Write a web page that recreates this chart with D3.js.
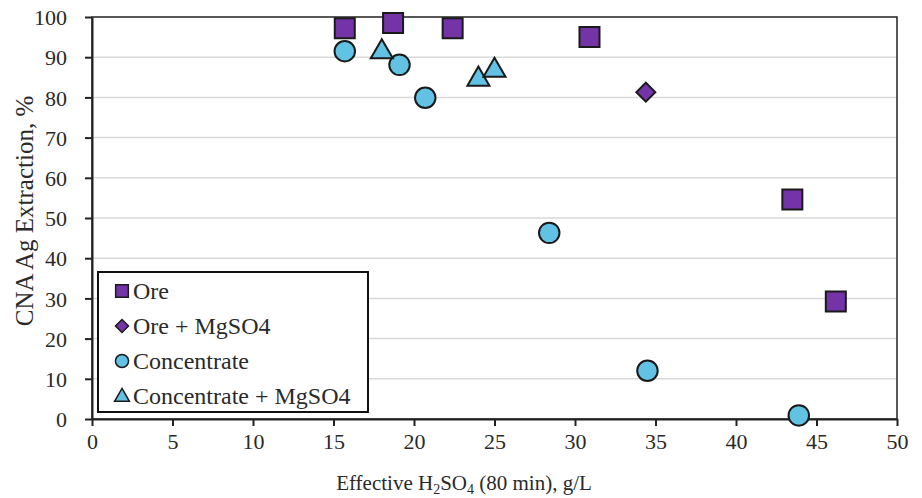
<!DOCTYPE html>
<html>
<head>
<meta charset="utf-8">
<script src="https://cdn.jsdelivr.net/npm/d3@7"></script>
<style>
  body { margin: 0; background: #fff; }
  svg text { font-family: "Liberation Serif", "Times New Roman", Times, serif; fill: #2a2a2a; }
</style>
</head>
<body>
<div id="chart"></div>
<script>
const oreX = [15.7, 18.7, 22.4, 30.9, 43.5, 46.2]
const oreY = [97.2, 98.5, 97.2, 95.0, 54.6, 29.2]
const oreMgX = [34.4]
const oreMgY = [81.3]
const concX = [15.7, 19.1, 20.7, 28.4, 34.5, 43.9]
const concY = [91.5, 88.1, 79.9, 46.3, 12.0, 0.9]
const concMgX = [18.0, 24.0, 25.0]
const concMgY = [91.8, 85.0, 87.2]
const xTicks = [0, 5, 10, 15, 20, 25, 30, 35, 40, 45, 50]
const yTicks = [0, 10, 20, 30, 40, 50, 60, 70, 80, 90, 100]

const purple = '#7433a6'
const blue = '#62c2e4'
const serif = '"Liberation Serif", "Times New Roman", Times, serif'

const margin = { top: 17, left: 92, right: 25, bottom: 79 }
const width = 922 - margin.left - margin.right
const height = 498 - margin.top - margin.bottom

const svg = d3
  .select('#chart')
  .append('svg')
  .attr('width', 922)
  .attr('height', 498)
  .append('g')
  .attr('transform', 'translate(' + margin.left + ',' + margin.top + ')')

const x = d3.scaleLinear().domain([0, 50]).range([0, width])
const y = d3.scaleLinear().domain([0, 100]).range([height, 0])

// gridlines
svg
  .selectAll('.grid')
  .data(yTicks.filter(d => d > 0 && d < 100))
  .enter()
  .append('line')
  .attr('x1', 0)
  .attr('x2', width)
  .attr('y1', d => y(d))
  .attr('y2', d => y(d))
  .attr('stroke', '#d9d9d9')
  .attr('stroke-width', 1.5)

// frame
svg
  .append('rect')
  .attr('width', width)
  .attr('height', height)
  .attr('fill', 'none')
  .attr('stroke', '#222')
  .attr('stroke-width', 1.5)

const xAxis = d3.axisBottom(x).tickValues(xTicks).tickSize(7).tickSizeOuter(0)
const yAxis = d3.axisLeft(y).tickValues(yTicks).tickSize(7).tickSizeOuter(0)

const gx = svg
  .append('g')
  .attr('transform', 'translate(0,' + height + ')')
  .call(xAxis)
const gy = svg.append('g').call(yAxis)

;[gx, gy].forEach(g => {
  g.select('.domain').attr('stroke', '#222').attr('stroke-width', 2)
  g.selectAll('.tick line').attr('stroke', '#222').attr('stroke-width', 2)
  g.selectAll('.tick text')
    .attr('font-family', serif)
    .attr('font-size', 22)
    .attr('fill', '#333')
})
gx.selectAll('.tick text').attr('y', 14).attr('dy', '0.72em')
gy.selectAll('.tick text').attr('x', -25).attr('dy', '0.35em')

// axis titles
svg
  .append('text')
  .attr('transform', 'rotate(-90)')
  .attr('x', -194)
  .attr('y', -59)
  .attr('text-anchor', 'middle')
  .attr('font-size', 25)
  .text('CNA Ag Extraction, %')

const xt = svg
  .append('text')
  .attr('x', 372)
  .attr('y', height + 71)
  .attr('text-anchor', 'middle')
  .attr('font-size', 21)
xt.append('tspan').text('Effective H')
xt.append('tspan').text('2').attr('font-size', 14).attr('dy', 4)
xt.append('tspan').text('SO').attr('dy', -4)
xt.append('tspan').text('4').attr('font-size', 14).attr('dy', 4)
xt.append('tspan').text(' (80 min), g/L').attr('dy', -4)

function pts(xs, ys) {
  return xs.map((v, i) => ({ x: v, y: ys[i] }))
}

const series = [
  { name: 'Ore', data: pts(oreX, oreY), shape: d3.symbolSquare, size: 400, rot: 0, fill: purple, lsize: 160 },
  { name: 'Ore + MgSO4', data: pts(oreMgX, oreMgY), shape: d3.symbolSquare, size: 180, rot: 45, fill: purple, lsize: 85 },
  { name: 'Concentrate', data: pts(concX, concY), shape: d3.symbolCircle, size: 330, rot: 0, fill: blue, lsize: 135 },
  { name: 'Concentrate + MgSO4', data: pts(concMgX, concMgY), shape: d3.symbolTriangle, size: 210, rot: 0, fill: blue, lsize: 95 }
]

// draw concentrate first, ore on top
;[2, 3, 1, 0].forEach(k => {
  const s = series[k]
  svg
    .selectAll('.s' + k)
    .data(s.data)
    .enter()
    .append('path')
    .attr('d', d3.symbol().type(s.shape).size(s.size))
    .attr('transform', d => 'translate(' + x(d.x) + ',' + (y(d.y) + (s.shape === d3.symbolTriangle ? 2 : 0)) + ') rotate(' + s.rot + ')')
    .attr('fill', s.fill)
    .attr('stroke', '#1a1a1a')
    .attr('stroke-width', 2)
})

// legend
const legend = svg.append('g').attr('transform', 'translate(6,255)')
legend
  .append('rect')
  .attr('width', 270)
  .attr('height', 140)
  .attr('fill', '#fff')
  .attr('stroke', '#111')
  .attr('stroke-width', 2)

series.forEach((s, i) => {
  const row = legend.append('g').attr('transform', 'translate(0,' + (19 + i * 35) + ')')
  row
    .append('path')
    .attr('d', d3.symbol().type(s.shape).size(s.lsize))
    .attr('transform', 'translate(24,' + (s.shape === d3.symbolTriangle ? 1 : 0) + ') rotate(' + s.rot + ')')
    .attr('fill', s.fill)
    .attr('stroke', '#1a1a1a')
    .attr('stroke-width', 1.5)
  row
    .append('text')
    .attr('x', 35)
    .attr('y', 8)
    .attr('font-size', 24)
    .text(s.name)
})
</script>
</body>
</html>
